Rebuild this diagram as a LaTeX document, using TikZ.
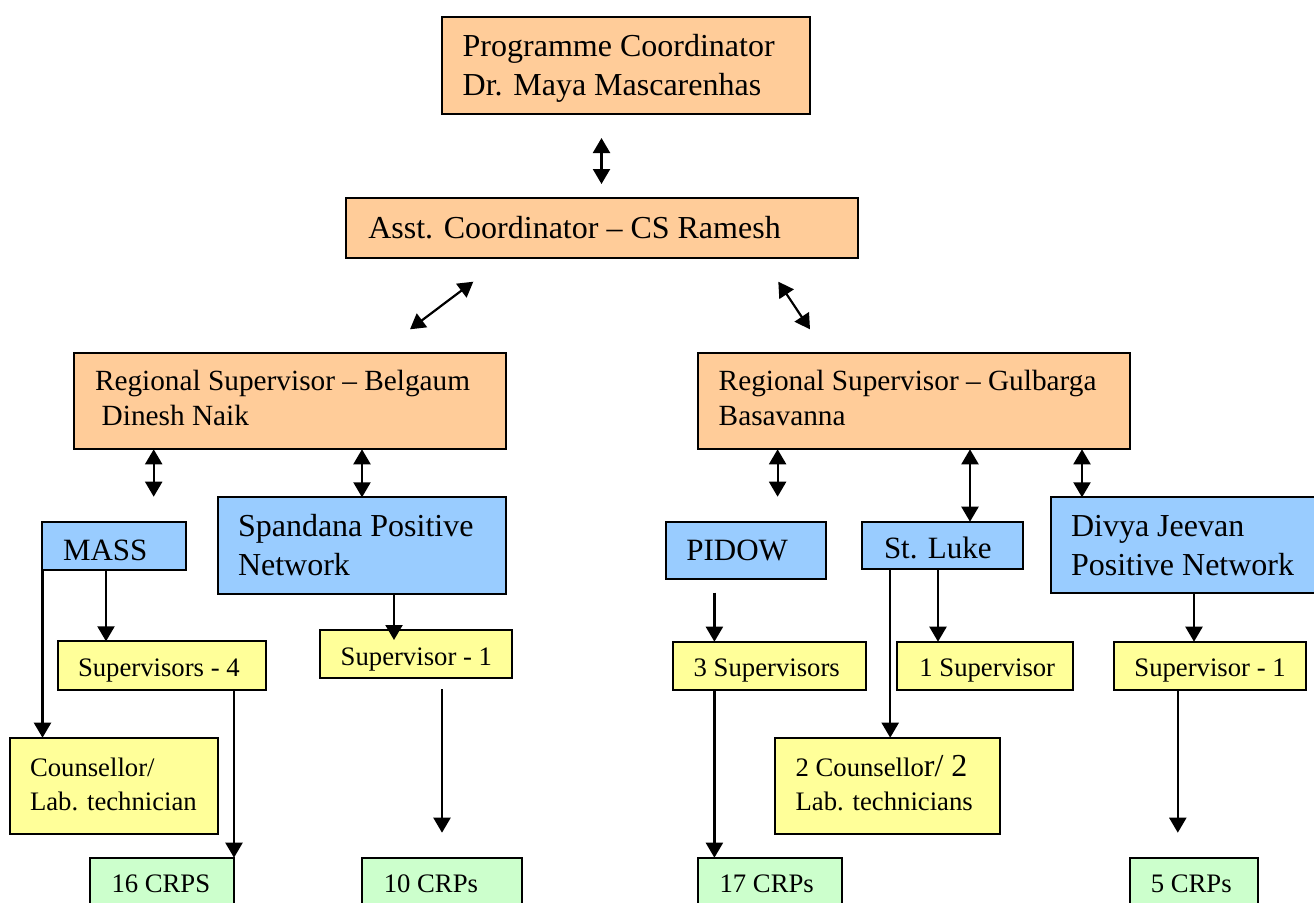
\documentclass[tikz,border=0pt]{standalone}
\usepackage{fontspec}
\setmainfont{Liberation Serif}
\usetikzlibrary{arrows.meta}
\definecolor{peach}{HTML}{FFCC99}
\definecolor{skyb}{HTML}{99CCFF}
\definecolor{lyel}{HTML}{FFFF99}
\definecolor{lgrn}{HTML}{CCFFCC}
\newcommand\mybox[6]{\node[#6, anchor=north west, minimum width=#4pt-#2pt, minimum height=#5pt-#3pt] (#1) at (#2,#3) {};}
\newcommand\mytext[5]{\node[txt, font=\fontsize{#5}{#5}\selectfont] (#1) at (#2,#3) {#4};}
\begin{document}
\begin{tikzpicture}[x=1pt,y=-1pt,
  box/.style={draw=black, line width=1.9pt, inner sep=0pt, outer sep=0pt},
  obox/.style={box, fill=peach},
  bbox/.style={box, fill=skyb},
  ybox/.style={box, fill=lyel},
  gbox/.style={box, fill=lgrn},
  txt/.style={anchor=base west, inner sep=0pt, outer sep=0pt},
  headtip/.tip={Triangle[width=17pt,length=15pt]},
  dbl/.style={line width=2.2pt, headtip-headtip},
  one/.style={line width=2.2pt, -headtip}]
\useasboundingbox (0,0) rectangle (1314,902);
\clip (0,0) rectangle (1314,902);
% boxes
\mybox{pc}{442}{17.3}{810}{114}{obox}
\mybox{ac}{345.7}{198.3}{858.3}{257.7}{obox}
\mybox{rsb}{73.7}{353.3}{506}{449.3}{obox}
\mybox{rsg}{698}{353.3}{1130}{449.3}{obox}
\mybox{mass}{41.7}{521.7}{186}{570}{bbox}
\mybox{spn}{217.7}{497.3}{506}{593.7}{bbox}
\mybox{pidow}{665.8}{521.7}{826}{579.3}{bbox}
\mybox{stl}{862}{521.7}{1022.6}{569.3}{bbox}
\mybox{dj}{1050.6}{497.3}{1322}{593.3}{bbox}
\mybox{supA}{57.7}{641.3}{266}{690}{ybox}
\mybox{supB}{319.7}{630}{512}{678.3}{ybox}
\mybox{supC}{673}{641.7}{865.7}{690}{ybox}
\mybox{supD}{897}{641.7}{1073.4}{690}{ybox}
\mybox{supE}{1113.8}{641.7}{1306.4}{690}{ybox}
\mybox{cnsA}{9.7}{737.7}{218}{833.7}{ybox}
\mybox{cnsB}{775.4}{737.7}{999.8}{833.7}{ybox}
\mybox{crA}{90}{857.7}{234}{930}{gbox}
\mybox{crB}{362}{857.7}{522}{930}{gbox}
\mybox{crC}{698}{857.7}{842}{930}{gbox}
\mybox{crD}{1130}{857.7}{1258.4}{930}{gbox}
% texts
\mytext{pc1}{462.7}{56.7}{Programme Coordinator}{32}
\mytext{pc2}{462.7}{95}{Dr. Maya Mascarenhas}{32}
\mytext{ac1}{368.3}{238.3}{Asst. Coordinator – CS Ramesh}{32}
\mytext{rsb1}{95}{390.7}{Regional Supervisor – Belgaum}{29.3}
\mytext{rsb2}{101.7}{425}{Dinesh Naik}{29.3}
\mytext{rsg1}{718.7}{390.7}{Regional Supervisor – Gulbarga}{29.3}
\mytext{rsg2}{718.7}{425}{Basavanna}{29.3}
\mytext{mass1}{63}{560}{MASS}{31}
\mytext{spn1}{238}{536}{Spandana Positive}{32}
\mytext{spn2}{238}{575}{Network}{32}
\mytext{pid1}{686.4}{560}{PIDOW}{31}
\mytext{stl1}{884}{558}{St. Luke}{31}
\mytext{dj1}{1071}{536}{Divya Jeevan}{32}
\mytext{dj2}{1071}{575}{Positive Network}{32}
\mytext{supA1}{78}{676.7}{Supervisors - 4}{26.7}
\mytext{supB1}{340.7}{665}{Supervisor - 1}{26.7}
\mytext{supC1}{693.7}{676.7}{3 Supervisors}{26.7}
\mytext{supD1}{919.4}{676.7}{1 Supervisor}{26.7}
\mytext{supE1}{1134.4}{676.7}{Supervisor - 1}{26.7}
\mytext{cnsA1}{30}{776.7}{Counsellor/}{26.7}
\mytext{cnsA2}{30}{810}{Lab. technician}{26.7}
\mytext{cnsB1}{795.6}{776.7}{2 Counsello{\fontsize{32}{32}\selectfont r/ 2}}{26.7}
\mytext{cnsB2}{795.6}{810}{Lab. technicians}{26.7}
\mytext{crA1}{111.5}{892.7}{16 CRPS}{26.7}
\mytext{crB1}{383.8}{892.7}{10 CRPs}{26.7}
\mytext{crC1}{719.6}{892.7}{17 CRPs}{26.7}
\mytext{crD1}{1150.8}{892.7}{5 CRPs}{26.7}
% free connector ends
\coordinate (k1) at (601.5,138);
\coordinate (k2) at (601.5,184);
\coordinate (l1) at (473.3,281.7);
\coordinate (l2) at (410,329.3);
\coordinate (r1) at (778.3,281.7);
\coordinate (r2) at (810,329.3);
\coordinate (m1) at (153.7,496.7);
\coordinate (p1) at (777.6,496.7);
\coordinate (pd) at (714.4,592.7);
\coordinate (f1) at (442,689);
\coordinate (f2) at (442,832.7);
\coordinate (g1) at (1177.8,689.3);
\coordinate (g2) at (1177.8,832.7);
% connectors
\draw[dbl] (k1) -- (k2);
\draw[dbl] (l1) -- (l2);
\draw[dbl] (r1) -- (r2);
\draw[dbl] (153.7,0 |- rsb.south) -- (m1);
\draw[dbl] (362,0 |- rsb.south) -- (362,0 |- spn.north);
\draw[dbl] (777.6,0 |- rsg.south) -- (p1);
\draw[dbl] (970,0 |- rsg.south) -- (970,0 |- stl.north);
\draw[dbl] (1082,0 |- rsg.south) -- (1082,0 |- dj.north);
\draw[one] (106,0 |- mass.south) -- (106,0 |- supA.north);
\draw[one] (42.5,0 |- mass.south) -- (42.5,0 |- cnsA.north);
\draw[one] (234,0 |- supA.south) -- (234,0 |- crA.north);
\draw[one, shorten >=-10pt] (394,0 |- spn.south) -- (394,0 |- supB.north);
\draw[one] (f1) -- (f2);
\draw[one] (pd) -- (714.4,0 |- supC.north);
\draw[one] (714.4,0 |- supC.south) -- (714.4,0 |- crC.north);
\draw[one] (890.2,0 |- stl.south) -- (890.2,0 |- cnsB.north);
\draw[one] (938,0 |- stl.south) -- (938,0 |- supD.north);
\draw[one] (1194,0 |- dj.south) -- (1194,0 |- supE.north);
\draw[one] (g1) -- (g2);
\end{tikzpicture}
\end{document}
